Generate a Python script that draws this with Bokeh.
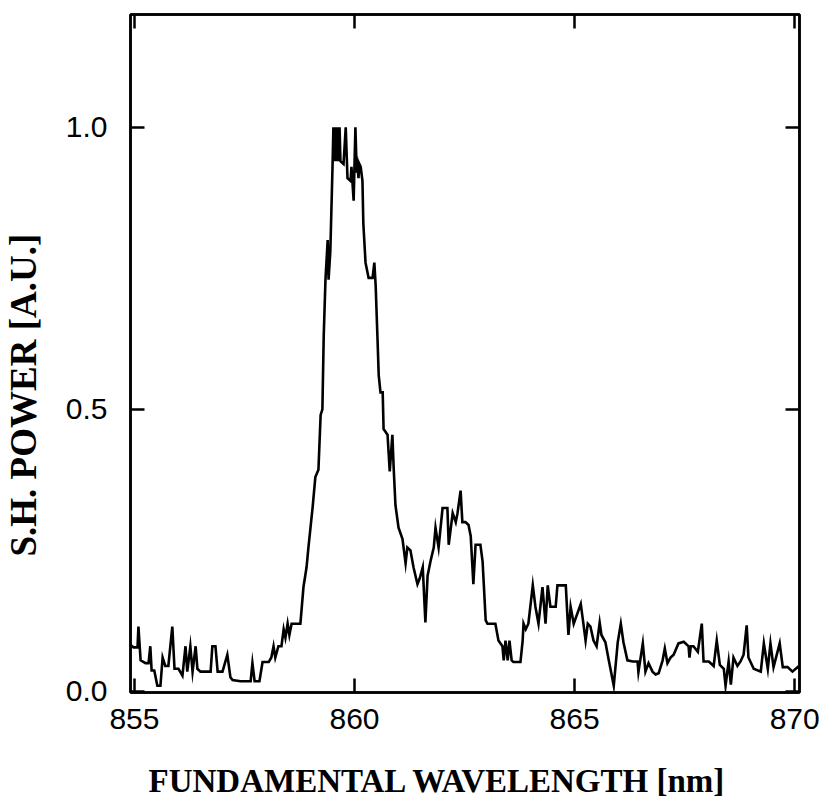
from bokeh.plotting import figure
from bokeh.models import Range1d, LinearAxis, FixedTicker, Title, CustomJSTickFormatter
from bokeh.embed import file_html
from bokeh.resources import INLINE

# ---- data ----
wavelength_nm = [
    854.91, 854.98, 855.07, 855.09, 855.14, 855.25, 855.32, 855.36, 855.39, 855.45,
    855.52, 855.59, 855.64, 855.70, 855.77, 855.86, 855.91, 856.00, 856.09, 856.16,
    856.20, 856.27, 856.32, 856.39, 856.43, 856.50, 856.61, 856.73, 856.77, 856.84,
    856.89, 857.00, 857.11, 857.18, 857.23, 857.41, 857.64, 857.68, 857.73, 857.84,
    857.91, 858.05, 858.11, 858.16, 858.20, 858.27, 858.34, 858.39, 858.43, 858.48,
    858.52, 858.57, 858.61, 858.77, 858.84, 858.91, 858.95, 859.05, 859.11, 859.18,
    859.23, 859.27, 859.30, 859.34, 859.39, 859.41, 859.45, 859.50, 859.52, 859.55,
    859.57, 859.59, 859.61, 859.64, 859.66, 859.68, 859.75, 859.80, 859.84, 859.91,
    859.93, 859.98, 860.02, 860.05, 860.07, 860.09, 860.11, 860.14, 860.18, 860.20,
    860.25, 860.32, 860.41, 860.45, 860.48, 860.52, 860.55, 860.59, 860.64, 860.66,
    860.75, 860.80, 860.86, 860.89, 860.93, 861.00, 861.09, 861.16, 861.20, 861.27,
    861.34, 861.43, 861.48, 861.55, 861.61, 861.66, 861.73, 861.80, 861.84, 861.91,
    862.00, 862.11, 862.14, 862.23, 862.30, 862.34, 862.41, 862.45, 862.52, 862.59,
    862.64, 862.70, 862.75, 862.86, 862.91, 862.98, 863.02, 863.20, 863.27, 863.36,
    863.39, 863.43, 863.48, 863.52, 863.57, 863.61, 863.77, 863.82, 863.84, 863.89,
    863.95, 864.05, 864.11, 864.18, 864.27, 864.34, 864.39, 864.45, 864.57, 864.61,
    864.80, 864.86, 864.91, 864.98, 865.14, 865.20, 865.25, 865.30, 865.36, 865.43,
    865.50, 865.57, 865.61, 865.70, 865.77, 865.89, 865.98, 866.05, 866.11, 866.20,
    866.32, 866.43, 866.45, 866.55, 866.61, 866.68, 866.77, 866.84, 866.91, 867.00,
    867.05, 867.11, 867.18, 867.25, 867.36, 867.48, 867.59, 867.61, 867.64, 867.70,
    867.80, 867.89, 867.93, 868.05, 868.16, 868.23, 868.30, 868.39, 868.43, 868.50,
    868.55, 868.61, 868.70, 868.77, 868.84, 868.91, 868.95, 869.07, 869.23, 869.30,
    869.39, 869.45, 869.52, 869.66, 869.73, 869.84, 869.95, 870.07, 870.11,
]
sh_power = [
    0.082, 0.078, 0.078, 0.115, 0.055, 0.050, 0.050, 0.080, 0.037, 0.037,
    0.010, 0.010, 0.060, 0.045, 0.045, 0.115, 0.040, 0.040, 0.028, 0.080,
    0.035, 0.080, 0.035, 0.080, 0.040, 0.035, 0.035, 0.035, 0.080, 0.080,
    0.035, 0.035, 0.065, 0.025, 0.020, 0.018, 0.018, 0.050, 0.018, 0.018,
    0.052, 0.052, 0.060, 0.080, 0.060, 0.080, 0.080, 0.110, 0.095, 0.120,
    0.100, 0.120, 0.120, 0.120, 0.185, 0.220, 0.253, 0.328, 0.380, 0.393,
    0.490, 0.500, 0.630, 0.730, 0.800, 0.730, 0.780, 0.930, 1.000, 0.940,
    1.000, 0.940, 1.000, 0.940, 1.000, 0.940, 0.935, 1.000, 0.910, 0.905,
    0.930, 0.870, 1.000, 0.920, 0.930, 0.910, 0.935, 0.930, 0.905, 0.830,
    0.760, 0.733, 0.733, 0.760, 0.720, 0.630, 0.560, 0.530, 0.530, 0.465,
    0.455, 0.390, 0.455, 0.395, 0.330, 0.290, 0.270, 0.227, 0.255, 0.250,
    0.220, 0.190, 0.200, 0.220, 0.122, 0.205, 0.232, 0.255, 0.290, 0.255,
    0.325, 0.325, 0.260, 0.316, 0.300, 0.316, 0.356, 0.300, 0.300, 0.295,
    0.275, 0.190, 0.260, 0.260, 0.230, 0.126, 0.120, 0.120, 0.090, 0.080,
    0.055, 0.090, 0.055, 0.090, 0.055, 0.052, 0.052, 0.090, 0.120, 0.110,
    0.120, 0.188, 0.150, 0.120, 0.185, 0.120, 0.188, 0.150, 0.150, 0.188,
    0.188, 0.100, 0.150, 0.120, 0.155, 0.120, 0.090, 0.120, 0.115, 0.090,
    0.080, 0.122, 0.100, 0.087, 0.058, 0.010, 0.087, 0.120, 0.087, 0.055,
    0.053, 0.053, 0.034, 0.085, 0.035, 0.050, 0.035, 0.030, 0.032, 0.055,
    0.076, 0.050, 0.060, 0.065, 0.085, 0.088, 0.080, 0.060, 0.080, 0.080,
    0.070, 0.120, 0.053, 0.053, 0.045, 0.090, 0.047, 0.040, 0.010, 0.053,
    0.012, 0.060, 0.045, 0.053, 0.065, 0.117, 0.060, 0.040, 0.035, 0.085,
    0.040, 0.085, 0.043, 0.085, 0.043, 0.043, 0.035, 0.043, 0.040,
]
x_ticks = [855, 860, 865, 870]
y_ticks = [0.0, 0.5, 1.0]
x_label = "FUNDAMENTAL WAVELENGTH [nm]"
y_label = "S.H. POWER [A.U.]"

TICK_FONT = "Liberation Sans"
LABEL_FONT = "Liberation Serif"

p = figure(
    width=823, height=812,
    x_range=Range1d(854.91, 870.11), y_range=Range1d(-0.002, 1.2),
    output_backend="svg", toolbar_location=None,
    x_axis_location=None, y_axis_location=None,
    min_border_left=130, min_border_right=24,
    min_border_top=14, min_border_bottom=120,
)
p.xgrid.visible = False
p.ygrid.visible = False
p.outline_line_color = "black"
p.outline_line_width = 2.5
p.background_fill_color = "white"
p.border_fill_color = "white"


def style_axis(ax, ticks, show_labels, standoff=0):
    ax.ticker = FixedTicker(ticks=ticks)
    ax.axis_line_color = "black"
    ax.axis_line_width = 2.5
    ax.major_tick_line_color = "black"
    ax.major_tick_line_width = 2.5
    ax.major_tick_in = 14
    ax.major_tick_out = 0
    ax.minor_tick_line_color = None
    ax.major_label_standoff = standoff
    if show_labels:
        ax.major_label_text_font = TICK_FONT
        ax.major_label_text_font_size = "30px"
        ax.major_label_text_color = "black"
    else:
        ax.major_label_text_font_size = "0px"
        ax.major_label_text_color = None


def spacer_axis(tick, size):
    # a blank axis that only reserves `size` pixels of room (white on white)
    ax = LinearAxis(ticker=FixedTicker(ticks=[tick]))
    ax.axis_line_color = None
    ax.major_tick_line_color = "white"
    ax.major_tick_line_width = 1
    ax.minor_tick_line_color = None
    ax.major_tick_in = 0
    ax.major_tick_out = size
    ax.minor_tick_out = 0
    ax.major_label_standoff = 0
    ax.major_label_text_font_size = "0px"
    ax.major_label_text_color = None
    return ax


bottom = LinearAxis()
style_axis(bottom, x_ticks, True, standoff=16)
bottom.formatter.use_scientific = False
p.add_layout(bottom, "below")
p.add_layout(spacer_axis(862.5, 31), "below")
p.add_layout(Title(text=x_label, align="left", offset=18, vertical_align="top",
                   standoff=0, text_font=LABEL_FONT, text_font_style="bold",
                   text_font_size="33px", text_color="black"), "below")

left = LinearAxis()
style_axis(left, y_ticks, True, standoff=23)
left.formatter = CustomJSTickFormatter(code="return tick.toFixed(1);")
p.add_layout(left, "left")
p.add_layout(spacer_axis(0.75, 19), "left")
p.add_layout(Title(text=y_label, align="left", offset=136, vertical_align="bottom",
                   standoff=0, text_font=LABEL_FONT, text_font_style="bold",
                   text_font_size="37px", text_color="black"), "left")

top = LinearAxis()
style_axis(top, x_ticks, False)
p.add_layout(top, "above")

right = LinearAxis()
style_axis(right, y_ticks, False)
p.add_layout(right, "right")

p.line(wavelength_nm, sh_power, line_color="black", line_width=2.6,
       line_join="miter")

open("out.html", "w").write(file_html(p, INLINE))
